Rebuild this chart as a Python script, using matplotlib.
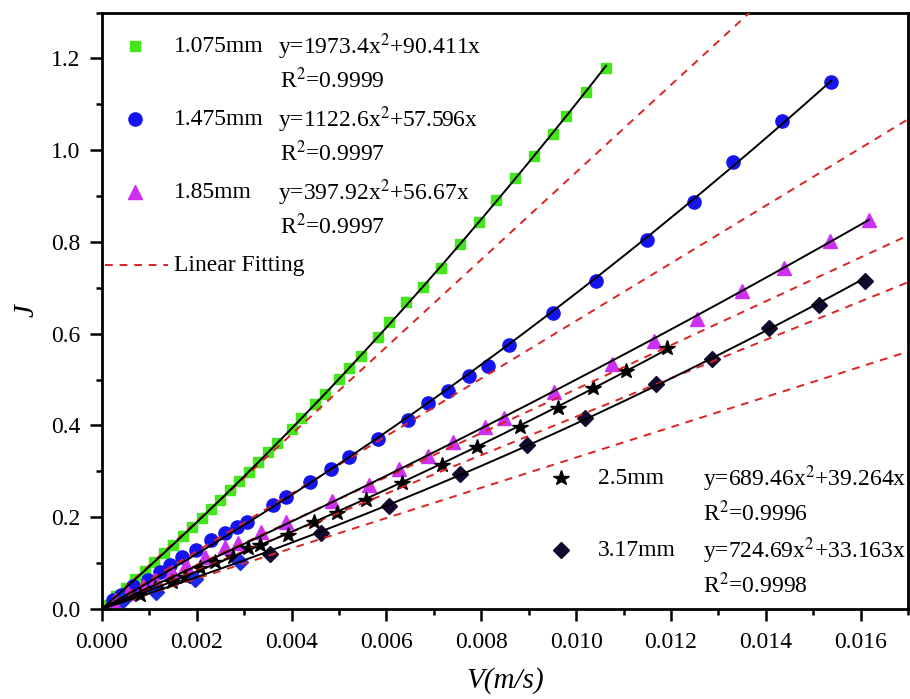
"""
J versus V for five gap sizes, quadratic fits (solid) and linear fits (dashed).
"""

import numpy as np
import matplotlib
matplotlib.use("Agg")
import matplotlib.pyplot as plt
from matplotlib.ticker import MultipleLocator, FormatStrFormatter

# ========= DATA =========
LABELS = ["1.075mm", "1.475mm", "1.85mm", "2.5mm", "3.17mm"]
EQUATIONS = [
    "y=1973.4x$^{2}$+90.411x",
    "y=1122.6x$^{2}$+57.596x",
    "y=397.92x$^{2}$+56.67x",
    "y=689.46x$^{2}$+39.264x",
    "y=724.69x$^{2}$+33.163x",
]
R2_TEXT = ["R$^{2}$=0.9999", "R$^{2}$=0.9997", "R$^{2}$=0.9997", "R$^{2}$=0.9996", "R$^{2}$=0.9998"]

v_1075 = [0.0001, 0.0003, 0.0005, 0.0007, 0.0009, 0.0011, 0.0013, 0.0015, 0.0017, 0.0019,
          0.0021, 0.0023, 0.0025, 0.0027, 0.0029, 0.0031, 0.0033, 0.0035, 0.0037, 0.0040,
          0.0042, 0.0045, 0.0047, 0.0050, 0.0052, 0.00547, 0.00582, 0.00606, 0.00641, 0.00676,
          0.00715, 0.00754, 0.00796, 0.00831, 0.00870, 0.00912, 0.00951, 0.00978, 0.0102, 0.01063]
j_1075 = [0.009, 0.027, 0.046, 0.064, 0.083, 0.102, 0.121, 0.140, 0.159, 0.179,
          0.199, 0.218, 0.238, 0.259, 0.279, 0.299, 0.320, 0.341, 0.362, 0.393,
          0.415, 0.447, 0.469, 0.501, 0.524, 0.552, 0.592, 0.625, 0.668, 0.701,
          0.744, 0.795, 0.844, 0.891, 0.940, 0.987, 1.036, 1.075, 1.126, 1.179]

v_1475 = [0.00024, 0.00041, 0.00066, 0.00097, 0.00122, 0.00143, 0.00168, 0.00199, 0.00231,
          0.00259, 0.00284, 0.00305, 0.00361, 0.00389, 0.00438, 0.00484, 0.00521, 0.00583,
          0.00645, 0.00688, 0.00729, 0.00775, 0.00814, 0.00858, 0.00952, 0.01041, 0.01149,
          0.01248, 0.01331, 0.01434, 0.01538]
j_1475 = [0.020, 0.030, 0.049, 0.063, 0.081, 0.096, 0.114, 0.128, 0.150,
          0.165, 0.179, 0.190, 0.226, 0.243, 0.276, 0.304, 0.330, 0.371,
          0.412, 0.449, 0.476, 0.507, 0.530, 0.575, 0.646, 0.715, 0.804,
          0.887, 0.975, 1.063, 1.148]

v_185 = [0.00027, 0.00055, 0.00087, 0.00112, 0.00147, 0.00178, 0.00217, 0.00259, 0.00287,
         0.00336, 0.00389, 0.00486, 0.00564, 0.00626, 0.00687, 0.00740, 0.00808, 0.00848,
         0.00954, 0.01076, 0.01164, 0.01255, 0.01350, 0.01438, 0.01535, 0.01617]
j_185 = [0.020, 0.034, 0.049, 0.063, 0.081, 0.096, 0.114, 0.135, 0.143,
         0.168, 0.190, 0.235, 0.270, 0.304, 0.333, 0.364, 0.396, 0.417,
         0.472, 0.534, 0.585, 0.632, 0.693, 0.744, 0.801, 0.847]

v_25 = [0.00080, 0.00112, 0.00147, 0.00175, 0.00206, 0.00238, 0.00276, 0.00308, 0.00333,
        0.00392, 0.00448, 0.00496, 0.00556, 0.00632, 0.00717, 0.00790, 0.00881, 0.00962,
        0.01036, 0.01105, 0.01192]
j_25 = [0.030, 0.045, 0.059, 0.070, 0.088, 0.103, 0.114, 0.132, 0.139,
        0.161, 0.190, 0.208, 0.238, 0.275, 0.313, 0.353, 0.396, 0.438,
        0.481, 0.518, 0.568]

# first few 3.17mm points are drawn in blue in the original
v_317_low = [0.00044, 0.00115, 0.00196, 0.00291]
j_317_low = [0.020, 0.036, 0.065, 0.103]
v_317 = [0.00354, 0.00461, 0.00605, 0.00755, 0.00897, 0.01019, 0.01169, 0.01287,
         0.01406, 0.01512, 0.01608]
j_317 = [0.119, 0.165, 0.224, 0.293, 0.357, 0.415, 0.491, 0.545,
         0.612, 0.662, 0.714]

# quadratic fits (solid black) and linear fits through origin (dashed red)
FIT_A = [1973.4, 1122.6, 397.92, 689.46, 724.69]
FIT_B = [90.411, 57.596, 46.0, 39.264, 33.163]
LIN_SLOPE = [95.2, 62.8, 47.9, 41.9, 33.0]
# ==============================================

COLORS  = ["#44e61c", "#1414f0", "#cc30f2", "#000000", "#140a30"]
MARKERS = ["s", "o", "^", "*", "D"]
MSIZES  = [7.5, 9.5, 9.5, 11.5, 8]

plt.rcParams["font.family"] = ["Liberation Serif", "DejaVu Serif"]
plt.rcParams["mathtext.fontset"] = "stix"

fig = plt.figure(figsize=(9.10, 6.99), dpi=100)
ax = fig.add_axes([0.112, 0.129, 0.886, 0.853])

series = [(v_1075, j_1075), (v_1475, j_1475), (v_185, j_185), (v_25, j_25), (v_317, j_317)]

XMAX = 0.017
xl = np.linspace(0, XMAX, 50)
for k in LIN_SLOPE:
    ax.plot(xl, k * xl, ls=(0, (4, 3.5)), color="#dd2222", lw=1.4, zorder=3)

for i, (v, j) in enumerate(series):
    ax.plot(v, j, ls="none", marker=MARKERS[i], ms=MSIZES[i], color=COLORS[i],
            mec=COLORS[i], zorder=2)
ax.plot(v_317_low, j_317_low, ls="none", marker="D", ms=8, color="#1a2ae8", zorder=2)

xmax_fit = [max(v_1075), max(v_1475), max(v_185), max(v_25), max(v_317)]
for a, b, xm in zip(FIT_A, FIT_B, xmax_fit):
    xf = np.linspace(0, xm, 200)
    ax.plot(xf, a * xf ** 2 + b * xf, color="black", lw=1.4, zorder=4)

ax.set_xlim(0, XMAX)
ax.set_ylim(0, 1.3)
ax.xaxis.set_major_locator(MultipleLocator(0.002))
ax.xaxis.set_minor_locator(MultipleLocator(0.001))
ax.yaxis.set_major_locator(MultipleLocator(0.2))
ax.yaxis.set_minor_locator(MultipleLocator(0.1))
ax.xaxis.set_major_formatter(FormatStrFormatter("%.3f"))
ax.yaxis.set_major_formatter(FormatStrFormatter("%.1f"))
ax.tick_params(which="both", direction="out", width=1.8, labelsize=17, top=False, right=False)
ax.tick_params(axis="x", which="major", length=8.5, pad=8)
ax.tick_params(axis="y", which="major", length=8.5, pad=7)
ax.tick_params(which="minor", length=4.5)
for s in ax.spines.values():
    s.set_linewidth(2.0)

ax.set_xlabel("V(m/s)", fontsize=21, style="italic", labelpad=10)
ax.set_ylabel("J", fontsize=21, style="italic", labelpad=8)

# -------- custom legend blocks --------
def fx(px):
    return (px - 102) / 806.0

def fy(py):
    return (609 - py) / 596.0

FS = 17
tr = ax.transAxes
rows_top = [47, 120, 193]
for i, py in enumerate(rows_top):
    ax.plot([fx(135)], [fy(py - 1)], transform=tr, marker=MARKERS[i], ms=MSIZES[i],
            color=COLORS[i], ls="none", clip_on=False)
    ax.text(fx(174), fy(py), LABELS[i], transform=tr, fontsize=FS, va="center")
    ax.text(fx(278), fy(py), EQUATIONS[i], transform=tr, fontsize=FS, va="center")
    ax.text(fx(280), fy(py + 34), R2_TEXT[i], transform=tr, fontsize=FS, va="center")

ax.plot([fx(105), fx(168)], [fy(265), fy(265)], transform=tr, ls=(0, (4, 3.5)),
        color="#dd2222", lw=1.4)
ax.text(fx(174), fy(266), "Linear Fitting", transform=tr, fontsize=FS, va="center")

rows_bot = [479, 551]
for i, py in zip([3, 4], rows_bot):
    ax.plot([fx(561)], [fy(py - 1)], transform=tr, marker=MARKERS[i], ms=MSIZES[i],
            color=COLORS[i], ls="none")
    ax.text(fx(598), fy(py), LABELS[i], transform=tr, fontsize=FS, va="center")
    ax.text(fx(703), fy(py), EQUATIONS[i], transform=tr, fontsize=FS, va="center")
    ax.text(fx(703), fy(py + 35), R2_TEXT[i], transform=tr, fontsize=FS, va="center")

fig.savefig("out.png", dpi=100)
